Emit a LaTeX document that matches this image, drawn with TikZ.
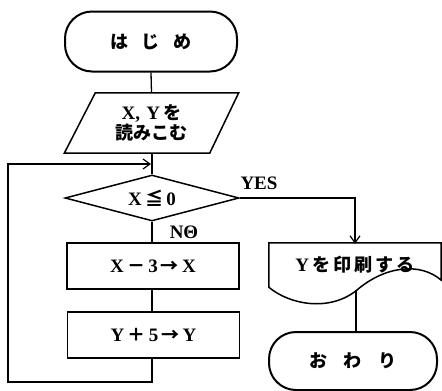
\documentclass[tikz,border=0pt]{standalone}
\usepackage{fontspec}
\setmainfont{Liberation Serif}
\newfontfamily\jp{Noto Sans CJK JP}[Scale=0.95]
\newcommand{\J}[1]{{\jp\bfseries #1}}
\usetikzlibrary{shapes.geometric,arrows.meta}
\begin{document}
\begin{tikzpicture}[x=1pt,y=-1pt,
  txt/.style={font=\bfseries\fontsize{19}{21}\selectfont},
  conn/.style={line width=1.3pt},
  arr/.style={conn,-{Straight Barb[length=7pt,width=10pt,line width=1.2pt]}},
  lbl/.style={txt, inner sep=0pt},
  box/.style={txt, draw, line width=1.5pt, minimum width=172pt, minimum height=46pt, inner sep=0pt},
  term/.style={txt, draw, line width=2pt, rounded corners=27pt, minimum width=172pt, minimum height=60pt, inner sep=0pt},
  ghost/.style={txt, minimum width=174pt, minimum height=60pt, inner sep=0pt, align=center},
  dia/.style={txt, diamond, draw, line width=1.5pt, minimum width=174pt, minimum height=46pt, aspect=3.8, inner sep=0pt}
]
\useasboundingbox (0,0) rectangle (442,391);
\fill[white] (0,0) rectangle (442,391);

\node[term] (start) at (151,41.5) {\J{は\hspace{13pt}じ\hspace{13pt}め}};
\node[ghost] (read) at (151.5,123) {X,\,\,Y\,\J{を}\\[-1pt]\J{読みこむ}};
\draw[line width=1.5pt] ([xshift=31pt]read.north west) -- (read.north east) -- ([xshift=-29pt]read.south east) -- (read.south west) -- cycle;
\node[dia] (dec) at (152,198) {X\,\J{≦}\,0};
\node[box] (box1) at (153,266) {X\,\J{－}\,3\,\J{→}\,X};
\node[box] (box2) at (153.5,335) {Y\,\J{＋}\,5\,\J{→}\,Y};

\node[txt, minimum width=172pt, minimum height=44pt, inner sep=0pt] (doc) at (355,265) {Y\,\J{を\,印\,刷\,す\,る}};
\draw[line width=1.5pt] (doc.south west) -- (doc.north west) -- (doc.north east) -- (441,280)
  .. controls (420,262) and (385,266) .. (357,290)
  .. controls (330,312) and (290,305) .. (doc.south west) -- cycle;
\coordinate (docb) at (356,290);

\node[term, minimum width=168pt, minimum height=58pt] (end) at (353,361) {\J{お\hspace{16pt}わ\hspace{16pt}り}};

\node[lbl] (yes) at (259,183) {YES};
\node[lbl] (no) at (184,232) {NΘ};

\draw[conn] (start.south) -- (read.north);
\draw[conn] (read.south -| dec.north) -- (dec.north);
\draw[conn] (dec.south) -- (box1.north -| dec.south);
\draw[conn] (box1.south -| dec.south) -- (box2.north -| dec.south);
\coordinate (lb) at (8,382);
\coordinate (lt) at (8,164);
\draw[arr] (box2.south -| dec.south) |- (lb) -- (lt) -- ([xshift=-1pt]lt -| dec.north);
\draw[arr] (dec.east) -| ([yshift=-1pt]doc.north);
\draw[conn] (docb) -- (docb |- end.north);
\end{tikzpicture}
\end{document}
